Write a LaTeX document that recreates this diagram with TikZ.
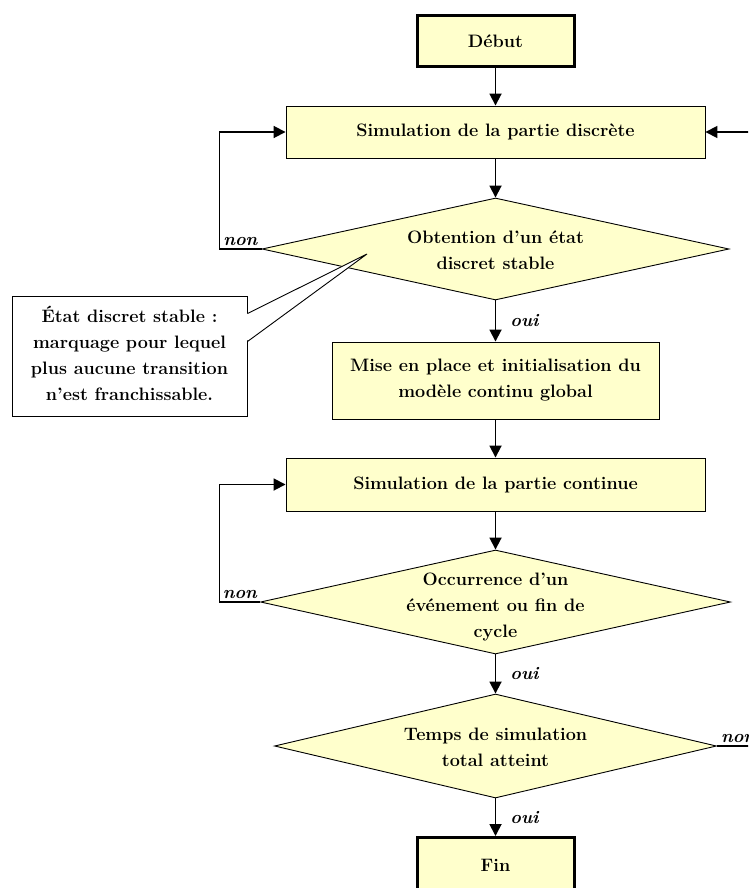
\documentclass[tikz,border=0pt]{standalone}
\usepackage{fontspec}
\usetikzlibrary{shapes.geometric,arrows.meta,calc}
\definecolor{boxfill}{HTML}{FFFFCC}
\begin{document}
\begin{tikzpicture}[x=1pt,y=-1pt,
  every node/.style={font=\fontsize{18}{26}\selectfont\bfseries},
  proc/.style={draw,line width=0.9pt,fill=boxfill,align=center,inner sep=0pt},
  term/.style={proc,line width=3pt},
  test/.style={diamond,draw,line width=0.9pt,fill=boxfill,inner sep=0pt},
  txt/.style={align=center,inner sep=0pt},
  flow/.style={line width=1.8pt,-{Triangle[length=12pt,width=12pt]}},
  lbl/.style={font=\fontsize{18}{20}\selectfont\bfseries\itshape,inner sep=2pt}
]
\path[use as bounding box] (0,0) rectangle (748,888);
\clip (0,0) rectangle (748,888);

% main column
\node[term,minimum width=157pt,minimum height=51pt] (debut) at (495.5,41.5) {Début};
\node[proc,minimum width=419pt,minimum height=52pt] (simd) at (495.5,132) {Simulation de la partie discrète};
\node[test,minimum width=467pt,minimum height=102pt] (d1) at (495.5,249) {};
\node[txt] (d1t) at (495.5,250) {Obtention d’un état\\discret stable};
\node[proc,minimum width=327pt,minimum height=77pt] (mise) at (495.5,380.5) {Mise en place et initialisation du\\modèle continu global};
\node[proc,minimum width=419pt,minimum height=53pt] (simc) at (495.5,484.5) {Simulation de la partie continue};
\node[test,minimum width=470pt,minimum height=104pt] (d2) at (495.5,602) {};
\node[txt] (d2t) at (495.5,607.5) {Occurrence d’un\\événement ou fin de\\cycle};
\node[test,minimum width=442pt,minimum height=104pt] (d3) at (495.5,746) {};
\node[txt] (d3t) at (495.5,747) {Temps de simulation\\total atteint};
\node[term,minimum width=157pt,minimum height=55pt] (fin) at (495.5,865) {Fin};

% callout explaining a stable discrete state
\node[draw,line width=0.9pt,fill=white,minimum width=235pt,minimum height=120pt,inner sep=0pt] (note) at (129.5,356) {};
\node[txt] (notet) at (129.5,353) {État discret stable :\\marquage pour lequel\\plus aucune transition\\n’est franchissable.};
\coordinate (tip) at (367,254);
\fill[white] ($(note.north east)+(-1,18.5)$) -- (tip) -- ($(note.north east)+(-1,45.5)$) -- cycle;
\draw[line width=0.9pt,line join=miter] ($(note.north east)+(0,18)$) -- (tip) -- ($(note.north east)+(0,46)$);

% vertical flow
\draw[flow] (debut) -- (simd);
\draw[flow] (simd) -- (d1);
\draw[flow] (d1) -- node[lbl,right=12pt] (oui1) {oui} (mise);
\draw[flow] (mise) -- (simc);
\draw[flow] (simc) -- (d2);
\draw[flow] (d2) -- node[lbl,right=12pt] (oui2) {oui} (d3);
\draw[flow] (d3) -- node[lbl,right=12pt] (oui3) {oui} (fin);

% feedback loops
\draw[flow] (d1.west) -- ++(-42,0) |- (simd.west);
\node[lbl,anchor=south east] (non1) at ($(d1.west)+(-2,-1)$) {non};
\draw[flow] (d2.west) -- ++(-40.5,0) |- (simc.west);
\node[lbl,anchor=south east] (non2) at ($(d2.west)+(-1,-1)$) {non};
\draw[flow] (d3.east) -- ++(50,0) |- (simd.east);
\node[lbl,anchor=south west] (non3) at ($(d3.east)+(2,-1)$) {non};
\end{tikzpicture}
\end{document}
